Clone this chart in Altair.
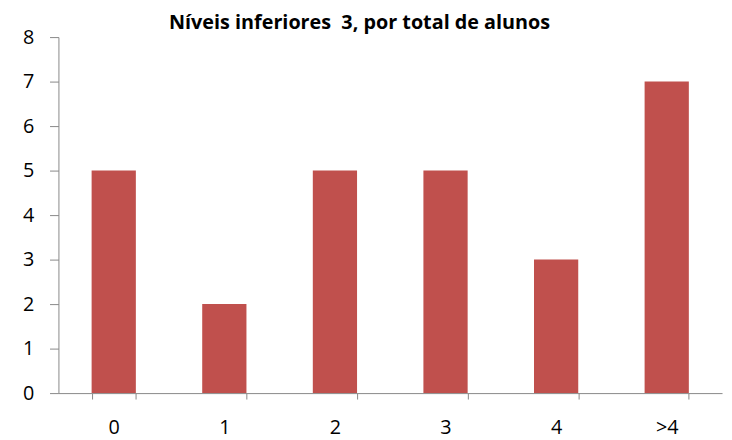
import altair as alt
import pandas as pd

categories = ["0", "1", "2", "3", "4", ">4"]
values = [5, 2, 5, 5, 3, 7]
title_text = "Níveis inferiores \u00a03, por total de alunos"

df = pd.DataFrame({"cat": categories, "val": values})

font = "Open Sans"

chart = alt.Chart(df).mark_bar(color="#C0504D").encode(
    x=alt.X("cat:N", sort=categories, title=None,
            scale=alt.Scale(paddingInner=0.6, paddingOuter=0.3),
            axis=alt.Axis(labelAngle=0, tickBand="extent", tickSize=6,
                          labelPadding=19, labelFontSize=20, labelFont=font,
                          labelColor="#000000", domainColor="#888888",
                          tickColor="#888888", grid=False)),
    y=alt.Y("val:Q", title=None,
            scale=alt.Scale(domain=[0, 8], nice=False),
            axis=alt.Axis(values=list(range(0, 9)), tickSize=9, labelPadding=16,
                          labelFontSize=20, labelFont=font, labelColor="#000000",
                          domainColor="#888888", tickColor="#888888", grid=False)),
).properties(
    width=671, height=360,
    title=alt.TitleParams(title_text, font=font, fontSize=20, fontWeight="bold",
                          color="#000000", anchor="middle", dx=-31, dy=12, offset=6),
    autosize=alt.AutoSizeParams(type="none"),
    padding={"left": 51, "top": 27, "right": 2, "bottom": 45},
).configure_view(stroke=None)

chart.save("out.html", embed_options={"renderer": "svg", "actions": False})
